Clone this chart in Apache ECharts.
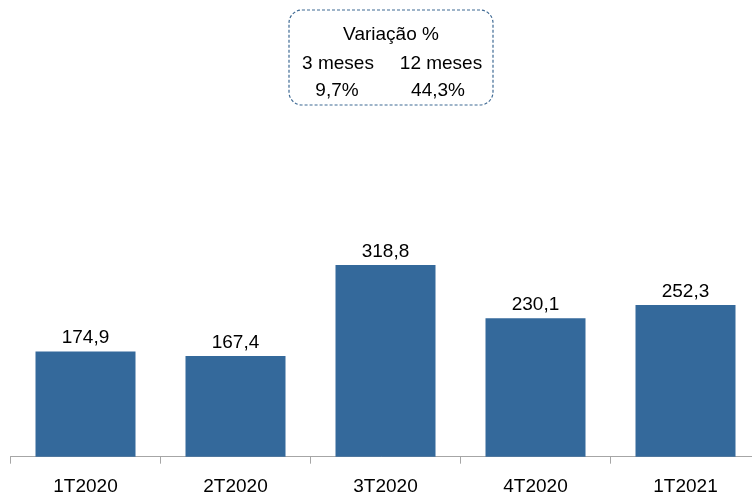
<!DOCTYPE html>
<html>
<head>
<meta charset="utf-8">
<script src="https://cdn.jsdelivr.net/npm/echarts@6/dist/echarts.min.js"></script>
<style>
  html, body { margin: 0; padding: 0; background: #fff; }
  #chart { width: 752px; height: 493px; }
</style>
</head>
<body>
<div id="chart"></div>
<script>
// Quarterly values
const categories = ['1T2020', '2T2020', '3T2020', '4T2020', '1T2021'];
const values = [174.9, 167.4, 318.8, 230.1, 252.3];

// Variation summary box
const boxTitle = 'Variação %';
const periodLabels = ['3 meses', '12 meses'];
const periodValues = ['9,7%', '44,3%'];

const FONT = '"Liberation Sans", Arial, sans-serif';
const fmt = v => v.toFixed(1).replace('.', ',');

const chart = echarts.init(document.getElementById('chart'), null, { renderer: 'canvas' });

chart.setOption({
  animation: false,
  backgroundColor: '#ffffff',
  grid: { left: 10.5, right: -8.5, top: 96, bottom: 36.3, containLabel: false, outerBoundsMode: 'none' },
  xAxis: {
    type: 'category',
    data: categories,
    boundaryGap: true,
    axisLine: { show: true, lineStyle: { color: '#a6a6a6', width: 1 } },
    axisTick: { show: true, length: 7, lineStyle: { color: '#a6a6a6' } },
    axisLabel: { color: '#000', fontFamily: FONT, fontSize: 19, margin: 21 }
  },
  yAxis: {
    type: 'value',
    min: 0,
    max: 600,
    show: false,
    splitLine: { show: false }
  },
  series: [{
    type: 'bar',
    data: values,
    barWidth: 100,
    itemStyle: { color: '#34699b' },
    label: {
      show: true,
      position: 'top',
      distance: 4,
      color: '#000',
      fontFamily: FONT,
      fontSize: 19,
      formatter: p => fmt(p.value)
    }
  }],
  graphic: [
    {
      type: 'rect',
      shape: { x: 289, y: 10, width: 204, height: 95, r: 13 },
      style: { fill: 'none', stroke: '#3f6a94', lineWidth: 1.2, lineDash: [3, 2] }
    },
    {
      type: 'text', x: 391, y: 35,
      style: { text: boxTitle, fill: '#000', font: '19px ' + FONT, textAlign: 'center', textVerticalAlign: 'middle' }
    },
    {
      type: 'text', x: 338, y: 64,
      style: { text: periodLabels[0], fill: '#000', font: '19px ' + FONT, textAlign: 'center', textVerticalAlign: 'middle' }
    },
    {
      type: 'text', x: 441, y: 64,
      style: { text: periodLabels[1], fill: '#000', font: '19px ' + FONT, textAlign: 'center', textVerticalAlign: 'middle' }
    },
    {
      type: 'text', x: 337, y: 91,
      style: { text: periodValues[0], fill: '#000', font: '19px ' + FONT, textAlign: 'center', textVerticalAlign: 'middle' }
    },
    {
      type: 'text', x: 438, y: 91,
      style: { text: periodValues[1], fill: '#000', font: '19px ' + FONT, textAlign: 'center', textVerticalAlign: 'middle' }
    }
  ]
});
</script>
</body>
</html>
